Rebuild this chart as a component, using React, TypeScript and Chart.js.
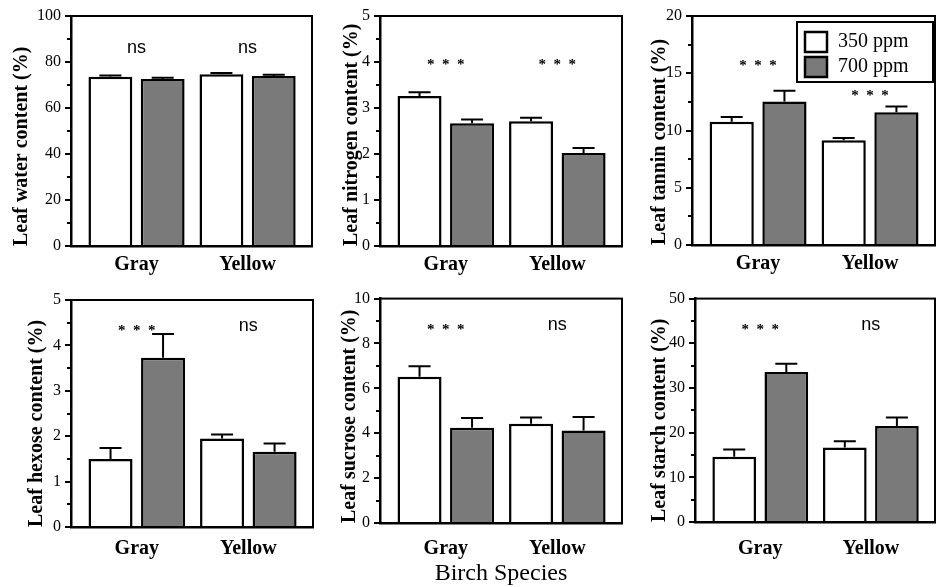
import React, { useEffect, useRef } from 'react';
import { Chart, registerables } from 'chart.js';

Chart.register(...registerables);

// ---------- data ----------
const categories = ['Gray', 'Yellow'];
const seriesLabels = ['350 ppm', '700 ppm'];

const waterAmbient = [73.6, 74.7];
const waterAmbientErr = [0.5, 0.5];
const waterElevated = [72.6, 73.9];
const waterElevatedErr = [0.6, 0.6];
const waterSig = ['ns', 'ns'];
const waterSigAt = [86, 86];

const nitrogenAmbient = [3.26, 2.71];
const nitrogenAmbientErr = [0.08, 0.08];
const nitrogenElevated = [2.67, 2.02];
const nitrogenElevatedErr = [0.08, 0.11];
const nitrogenSig = ['***', '***'];
const nitrogenSigAt = [4.0, 4.0];

const tanninAmbient = [10.77, 9.14];
const tanninAmbientErr = [0.4, 0.2];
const tanninElevated = [12.54, 11.6];
const tanninElevatedErr = [0.93, 0.5];
const tanninSig = ['***', '***'];
const tanninSigAt = [15.9, 13.3];

const hexoseAmbient = [1.5, 1.95];
const hexoseAmbientErr = [0.24, 0.09];
const hexoseElevated = [3.73, 1.66];
const hexoseElevatedErr = [0.52, 0.18];
const hexoseSig = ['***', 'ns'];
const hexoseSigAt = [4.38, 4.43];

const sucroseAmbient = [6.52, 4.42];
const sucroseAmbientErr = [0.46, 0.28];
const sucroseElevated = [4.25, 4.12];
const sucroseElevatedErr = [0.43, 0.6];
const sucroseSig = ['***', 'ns'];
const sucroseSigAt = [8.72, 8.8];

const starchAmbient = [14.6, 16.7];
const starchAmbientErr = [1.6, 1.4];
const starchElevated = [33.6, 21.5];
const starchElevatedErr = [1.8, 1.9];
const starchSig = ['***', 'ns'];
const starchSigAt = [43.6, 44];

const axisMax = [100, 5, 20, 5, 10, 50];
const axisStep = [20, 1, 5, 1, 2, 10];

const titles = [
  'Leaf water content (%)',
  'Leaf nitrogen content (%)',
  'Leaf tannin content (%)',
  'Leaf hexose content (%)',
  'Leaf sucrose content (%)',
  'Leaf starch content (%)',
];

const xAxisTitle = 'Birch Species';

// ---------- styles ----------
const SERIF = '"Liberation Serif", "Times New Roman", serif';
const SANS = '"Liberation Sans", Arial, sans-serif';
const GRAY = '#7a7a7a';

if (typeof document !== 'undefined') {
  document.body.style.margin = '0';
}

type Layout = {
  x: number; y: number; w: number; h: number;
  yWidth: number; padTop: number; padRight: number; xHeight: number;
  titlePad: number; xPad: number; legend: boolean;
};

const layouts: Layout[] = [
  { x: 0, y: 0, w: 318, h: 285, yWidth: 71, padTop: 16, padRight: 6, xHeight: 39, titlePad: 10, xPad: 7, legend: false },
  { x: 318, y: 0, w: 310, h: 285, yWidth: 62, padTop: 16, padRight: 6, xHeight: 39, titlePad: 22, xPad: 7, legend: false },
  { x: 628, y: 0, w: 313, h: 285, yWidth: 64, padTop: 16, padRight: 6, xHeight: 40, titlePad: 20, xPad: 7, legend: true },
  { x: 0, y: 285, w: 318, h: 302, yWidth: 71, padTop: 15, padRight: 5, xHeight: 60, titlePad: 25, xPad: 10, legend: false },
  { x: 318, y: 285, w: 310, h: 302, yWidth: 62, padTop: 13, padRight: 6, xHeight: 64, titlePad: 20, xPad: 14, legend: false },
  { x: 628, y: 285, w: 313, h: 302, yWidth: 67, padTop: 13, padRight: 6, xHeight: 65, titlePad: 20, xPad: 15, legend: false },
];

const panelData = [
  [waterAmbient, waterAmbientErr, waterElevated, waterElevatedErr, waterSig, waterSigAt],
  [nitrogenAmbient, nitrogenAmbientErr, nitrogenElevated, nitrogenElevatedErr, nitrogenSig, nitrogenSigAt],
  [tanninAmbient, tanninAmbientErr, tanninElevated, tanninElevatedErr, tanninSig, tanninSigAt],
  [hexoseAmbient, hexoseAmbientErr, hexoseElevated, hexoseElevatedErr, hexoseSig, hexoseSigAt],
  [sucroseAmbient, sucroseAmbientErr, sucroseElevated, sucroseElevatedErr, sucroseSig, sucroseSigAt],
  [starchAmbient, starchAmbientErr, starchElevated, starchElevatedErr, starchSig, starchSigAt],
] as any[];

// ---------- plugins ----------
const spreadPlugin = {
  id: 'spread',
  afterLayout(chart: any, _a: any, opts: any) {
    const x = chart.scales.x;
    x._startValue = opts.start;
    x._valueRange = opts.range;
  },
};

const framePlugin = {
  id: 'frame',
  afterDraw(chart: any) {
    const { ctx, chartArea: a } = chart;
    ctx.save();
    ctx.strokeStyle = '#000';
    ctx.lineWidth = 2;
    ctx.strokeRect(a.left, a.top, a.right - a.left, a.bottom - a.top);
    ctx.restore();
  },
};

const minorTickPlugin = {
  id: 'minorTicks',
  afterDraw(chart: any, _a: any, opts: any) {
    const y = chart.scales.y;
    const ctx = chart.ctx;
    ctx.save();
    ctx.strokeStyle = '#000';
    ctx.lineWidth = 2;
    for (let v = opts.step / 2; v < y.max; v += opts.step) {
      const py = Math.round(y.getPixelForValue(v));
      ctx.beginPath();
      ctx.moveTo(y.right, py);
      ctx.lineTo(y.right - 4, py);
      ctx.stroke();
    }
    ctx.restore();
  },
};

const errorBarPlugin = {
  id: 'errorBars',
  afterDatasetsDraw(chart: any) {
    const ctx = chart.ctx;
    const y = chart.scales.y;
    ctx.save();
    ctx.strokeStyle = '#000';
    ctx.lineWidth = 2;
    chart.data.datasets.forEach((ds: any, di: number) => {
      const meta = chart.getDatasetMeta(di);
      meta.data.forEach((el: any, i: number) => {
        const top = y.getPixelForValue(ds.data[i] + ds.err[i]);
        ctx.beginPath();
        ctx.moveTo(el.x, el.y);
        ctx.lineTo(el.x, top);
        ctx.moveTo(el.x - 11, top);
        ctx.lineTo(el.x + 11, top);
        ctx.stroke();
      });
    });
    ctx.restore();
  },
};

const sigPlugin = {
  id: 'sig',
  afterDraw(chart: any, _a: any, opts: any) {
    const ctx = chart.ctx;
    const x = chart.scales.x;
    const y = chart.scales.y;
    ctx.save();
    ctx.fillStyle = '#000';
    ctx.textAlign = 'center';
    ctx.textBaseline = 'middle';
    opts.labels.forEach((lab: string, i: number) => {
      const px = x.getPixelForValue(i);
      const py = y.getPixelForValue(opts.at[i]);
      if (lab === 'ns') {
        ctx.font = `18px ${SANS}`;
        ctx.fillText('ns', px, py);
      } else {
        ctx.font = `bold 15px ${SERIF}`;
        ctx.fillText(lab.split('').join('  '), px, py + 3);
      }
    });
    ctx.restore();
  },
};

const legendPlugin = {
  id: 'boxLegend',
  afterDraw(chart: any, _a: any, opts: any) {
    if (!opts.show) return;
    const { ctx, chartArea: a } = chart;
    const w = 136, h = 60;
    const left = a.right - 2 - w;
    const top = a.top + 6;
    ctx.save();
    ctx.fillStyle = '#fff';
    ctx.fillRect(left, top, w, h);
    ctx.strokeStyle = '#000';
    ctx.lineWidth = 2;
    ctx.strokeRect(left, top, w, h);
    chart.data.datasets.forEach((ds: any, i: number) => {
      const sy = top + 10 + i * 25;
      ctx.fillStyle = ds.backgroundColor;
      ctx.fillRect(left + 8, sy, 22, 20);
      ctx.lineWidth = 2.5;
      ctx.strokeRect(left + 8, sy, 22, 20);
      ctx.fillStyle = '#000';
      ctx.font = `20px ${SERIF}`;
      ctx.textAlign = 'left';
      ctx.textBaseline = 'middle';
      ctx.fillText(ds.label, left + 41, sy + 10);
    });
    ctx.restore();
  },
};

// ---------- panel ----------
function Panel({ index }: { index: number }) {
  const ref = useRef<HTMLCanvasElement | null>(null);
  const L = layouts[index];
  useEffect(() => {
    const [amb, ambErr, elev, elevErr, sig, sigAt] = panelData[index];
    const chart = new Chart(ref.current as HTMLCanvasElement, {
      type: 'bar',
      data: {
        labels: categories,
        datasets: [
          {
            label: seriesLabels[0], data: amb, err: ambErr,
            backgroundColor: '#ffffff', borderColor: '#000000', borderWidth: 2.5,
            categoryPercentage: 0.942, barPercentage: 0.838,
          } as any,
          {
            label: seriesLabels[1], data: elev, err: elevErr,
            backgroundColor: GRAY, borderColor: '#000000', borderWidth: 2.5,
            categoryPercentage: 0.942, barPercentage: 0.838,
          } as any,
        ],
      },
      options: {
        animation: false,
        responsive: false,
        maintainAspectRatio: false,
        events: [],
        layout: { padding: { top: L.padTop, right: L.padRight, left: 0, bottom: 0 } },
        scales: {
          x: {
            type: 'category',
            offset: true,
            grid: { display: false, drawTicks: false },
            border: { display: true, color: '#000', width: 2.5 },
            ticks: {
              color: '#000', padding: L.xPad, maxRotation: 0, autoSkip: false,
              font: { family: SERIF, size: 20, weight: 'bold' },
            },
            afterFit: (s: any) => { s.height = L.xHeight; },
          },
          y: {
            min: 0,
            max: axisMax[index],
            grid: { drawOnChartArea: false, drawTicks: true, tickLength: 6, color: '#000', lineWidth: 2 },
            border: { display: true, color: '#000', width: 2.5 },
            ticks: {
              stepSize: axisStep[index], color: '#000', padding: 4,
              font: { family: SERIF, size: 16 },
            },
            title: {
              display: true, text: titles[index], align: 'start', color: '#000',
              font: { family: SERIF, size: 20, weight: 'bold' },
              padding: { top: L.titlePad, bottom: 0 },
            },
            afterFit: (s: any) => { s.width = L.yWidth; },
          },
        },
        plugins: {
          legend: { display: false },
          tooltip: { enabled: false },
          spread: { start: -0.59, range: 2.17 },
          minorTicks: { step: axisStep[index] },
          sig: { labels: sig, at: sigAt },
          boxLegend: { show: L.legend },
        } as any,
      },
      plugins: [spreadPlugin, errorBarPlugin, framePlugin, minorTickPlugin, sigPlugin, legendPlugin],
    } as any);
    return () => chart.destroy();
  }, [index]);
  return (
    <canvas
      ref={ref}
      width={L.w}
      height={L.h}
      style={{ position: 'absolute', left: L.x, top: L.y, width: L.w, height: L.h }}
    />
  );
}

export default function App() {
  return (
    <div style={{ position: 'relative', width: 941, height: 587, background: '#fff', overflow: 'hidden' }}>
      {layouts.map((_, i) => <Panel key={i} index={i} />)}
      <div
        style={{
          position: 'absolute', left: 401, width: 200, top: 558, textAlign: 'center',
          fontFamily: SERIF, fontSize: 24, lineHeight: '28px', color: '#000',
        }}
      >
        {xAxisTitle}
      </div>
    </div>
  );
}
